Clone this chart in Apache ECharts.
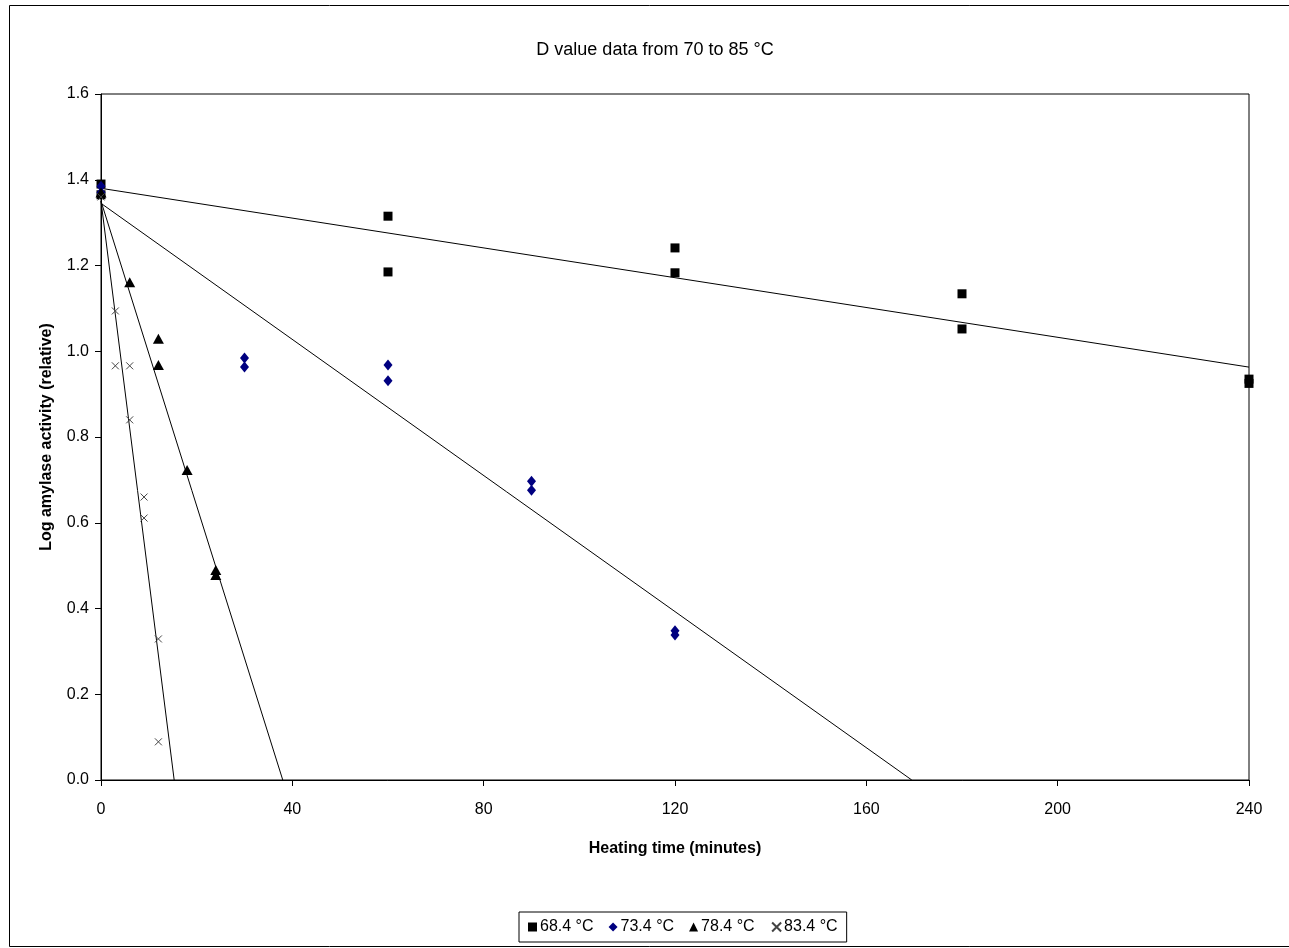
<!DOCTYPE html>
<html><head><meta charset="utf-8">
<script src="https://cdn.jsdelivr.net/npm/echarts@6/dist/echarts.min.js"></script>
<style>html,body{margin:0;padding:0;background:#fff}#c{width:1289px;height:948px}</style>
</head><body><div id="c"></div>
<script>
// Heating time (minutes), Log amylase activity (relative)
const s684 = [[0,1.39],[0,1.365],[60,1.315],[60,1.185],[120,1.241],[120,1.183],[180,1.134],[180,1.052],[240,0.935],[240,0.925]];
const s734 = [[0,1.385],[0,1.37],[30,0.984],[30,0.963],[60,0.968],[60,0.931],[90,0.697],[90,0.676],[120,0.348],[120,0.338]];
const s784 = [[0,1.37],[6,1.161],[12,1.029],[12,0.968],[18,0.723],[24,0.49],[24,0.478]];
const s834 = [[0,1.36],[3,1.094],[3,0.966],[6,0.966],[6,0.84],[9,0.66],[9,0.611],[12,0.329],[12,0.089]];
// Trend line endpoints
const t684 = [[0,1.38],[240,0.963]];
const t734 = [[0,1.345],[169.5,0]];
const t784 = [[0,1.35],[38,0]];
const t834 = [[0,1.35],[15.3,0]];
const names = ['68.4 °C','73.4 °C','78.4 °C','83.4 °C'];

const crossPath = 'path://M0,0L10,10M10,0L0,10';
const font = '"Liberation Sans", Arial, sans-serif';
const chart = echarts.init(document.getElementById('c'), null, {renderer:'canvas'});
function trend(d){return {type:'line',data:d,symbol:'none',lineStyle:{color:'#000',width:1},silent:true,z:1};}
chart.setOption({
  animation:false,
  textStyle:{fontFamily:font},
  title:{text:'D value data from 70 to 85 °C',left:650,top:36,textAlign:'center',
    textStyle:{fontFamily:font,fontSize:18,fontWeight:'normal',color:'#000'}},
  graphic:[{type:'rect',shape:{x:9.5,y:5.5,width:1290,height:941},style:{fill:'none',stroke:'#000',lineWidth:1},silent:true}],
  grid:{left:101,top:94,right:40,bottom:168,show:true,borderColor:'#000',borderWidth:1},
  legend:{data:[
      {name:names[0],icon:'rect'},
      {name:names[1],icon:'diamond'},
      {name:names[2],icon:'triangle'},
      {name:names[3],icon:crossPath}],
    left:519,top:912,itemWidth:9,itemHeight:9,itemGap:15,padding:[7,9,7,9],
    borderColor:'#000',borderWidth:1,
    textStyle:{fontFamily:font,fontSize:16,color:'#000',padding:[0,0,0,-2]}},
  xAxis:{type:'value',min:0,max:240,interval:40,
    name:'Heating time (minutes)',nameLocation:'middle',nameGap:61,
    nameTextStyle:{fontFamily:font,fontSize:16,fontWeight:'bold',color:'#000'},
    axisLine:{show:true,onZero:false,lineStyle:{color:'#000'}},
    axisTick:{show:true,inside:false,length:6,lineStyle:{color:'#000'}},
    axisLabel:{fontFamily:font,fontSize:16,color:'#000',margin:22},
    splitLine:{show:false}},
  yAxis:{type:'value',min:0,max:1.6,interval:0.2,
    name:'Log amylase activity (relative)',nameLocation:'middle',nameGap:46,
    nameTextStyle:{fontFamily:font,fontSize:16,fontWeight:'bold',color:'#000'},
    axisLine:{show:true,lineStyle:{color:'#000'}},
    axisTick:{show:true,inside:false,length:6,lineStyle:{color:'#000'}},
    axisLabel:{fontFamily:font,fontSize:16,color:'#000',margin:12,formatter:v=>v.toFixed(1)},
    splitLine:{show:false}},
  series:[
    trend(t684),trend(t734),trend(t784),trend(t834),
    {name:names[0],type:'scatter',data:s684,symbol:'rect',symbolSize:9,itemStyle:{color:'#000',opacity:1},z:3},
    {name:names[1],type:'scatter',data:s734,symbol:'diamond',symbolSize:[9,11],itemStyle:{color:'#000080',opacity:1},z:3},
    {name:names[2],type:'scatter',data:s784,symbol:'triangle',symbolSize:[11,10],itemStyle:{color:'#000',opacity:1},z:3},
    {name:names[3],type:'scatter',data:s834,symbol:crossPath,symbolSize:7,itemStyle:{color:'none',borderColor:'#444',borderWidth:1,opacity:1},z:3}
  ]
});
</script></body></html>
